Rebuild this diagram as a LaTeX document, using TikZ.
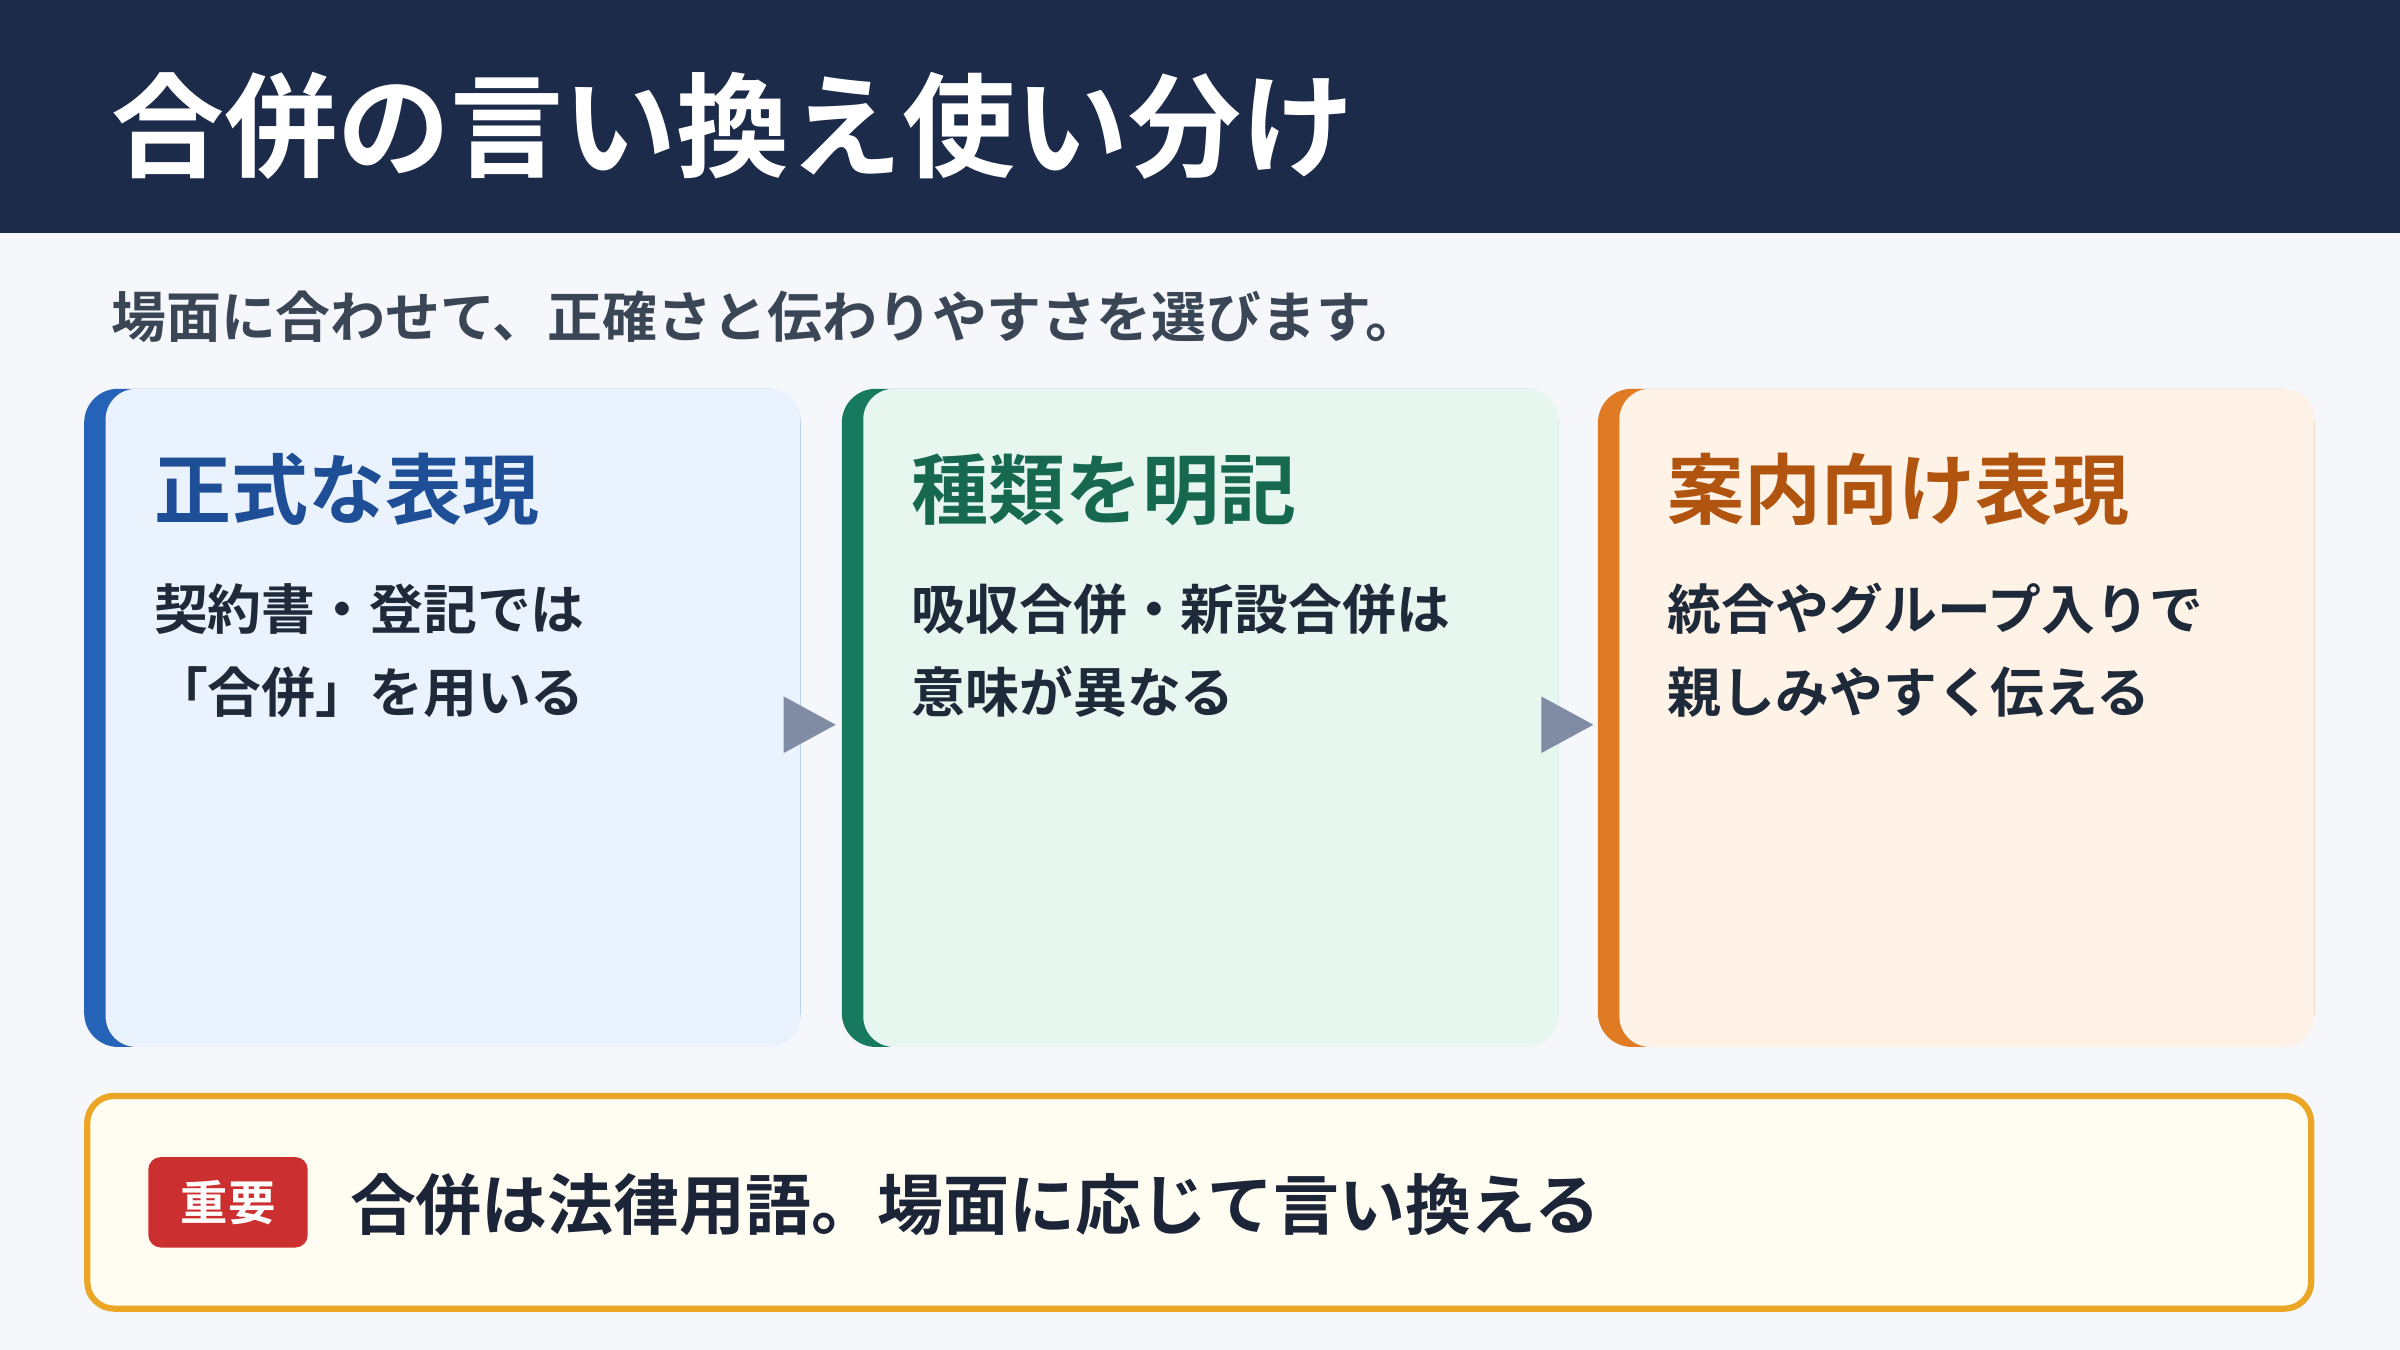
\documentclass[tikz,border=0pt]{standalone}
\usepackage{fontspec}
\setmainfont{Noto Sans CJK JP}[BoldFont={* Bold}]
\begin{document}
\definecolor{navy}{HTML}{1C2B4A}
\definecolor{bg}{HTML}{F5F7FB}
\definecolor{sub}{HTML}{3A4656}
\definecolor{body}{HTML}{1E2A3A}
\definecolor{fa}{HTML}{EAF2FE}\definecolor{aa}{HTML}{2563B8}\definecolor{ta}{HTML}{1E4E96}
\definecolor{fb}{HTML}{E8F6F0}\definecolor{ab}{HTML}{17795E}\definecolor{tb}{HTML}{16694F}
\definecolor{fc}{HTML}{FEF3E6}\definecolor{ac}{HTML}{E07B24}\definecolor{tc}{HTML}{B0540F}
\definecolor{arr}{HTML}{7F8CA3}
\definecolor{nfill}{HTML}{FFFCF2}\definecolor{nline}{HTML}{EBA625}
\definecolor{badge}{HTML}{CC2F2F}\definecolor{note}{HTML}{1C2538}
\begin{tikzpicture}[x=0.01cm,y=-0.01cm,
  ctitle/.style={anchor=west,inner sep=0,font=\fontsize{14.3}{17}\selectfont\bfseries},
  cbody/.style={anchor=west,inner sep=0,font=\fontsize{10}{12}\selectfont\bfseries,text=body},
  tri/.style={fill=arr}]
\useasboundingbox (0,0) rectangle (1568,882);
\fill[bg] (0,0) rectangle (1568,882);
\fill[navy] (0,0) rectangle (1568,152);
\node[anchor=west,inner sep=0,text=white,font=\fontsize{21}{25}\selectfont\bfseries] (title) at (72,82) {合併の言い換え使い分け};
\node[anchor=west,inner sep=0,text=sub,font=\fontsize{10.2}{12}\selectfont\bfseries] (subt) at (72,207) {場面に合わせて、正確さと伝わりやすさを選びます。};
\foreach \x/\f/\a in {55/fa/aa,550/fb/ab,1044/fc/ac}{
  \fill[\a,rounded corners=6.3pt] (\x,254) rectangle ++(468,430);
  \fill[\f,rounded corners=5.7pt] (\x+14,254) rectangle (\x+468,684);
}
\node[ctitle,text=ta] (t1) at (100,320) {正式な表現};
\node[cbody] (b1a) at (100,398) {契約書・登記では};
\node[cbody] (b1b) at (100,452) {「合併」を用いる};
\node[ctitle,text=tb] (t2) at (595,320) {種類を明記};
\node[cbody] (b2a) at (595,398) {吸収合併・新設合併は};
\node[cbody] (b2b) at (595,452) {意味が異なる};
\node[ctitle,text=tc] (t3) at (1089,320) {案内向け表現};
\node[cbody] (b3a) at (1089,398) {統合やグループ入りで};
\node[cbody] (b3b) at (1089,452) {親しみやすく伝える};
\fill[tri] (512,455) -- (546,473.5) -- (512,492) -- cycle;
\fill[tri] (1007,455) -- (1041,473.5) -- (1007,492) -- cycle;
\draw[nline,line width=1.15pt,fill=nfill,rounded corners=5pt] (57,716) rectangle (1510,855);
\node[fill=badge,rounded corners=2.3pt,minimum width=29.6pt,minimum height=16.8pt,inner sep=0,text=white,font=\fontsize{8.8}{10}\selectfont\bfseries] (badge) at (149,785.5) {重要};
\node[anchor=west,inner sep=0,text=note,font=\fontsize{12.25}{14}\selectfont\bfseries] (note) at (228,787) {合併は法律用語。場面に応じて言い換える};
\end{tikzpicture}
\end{document}
